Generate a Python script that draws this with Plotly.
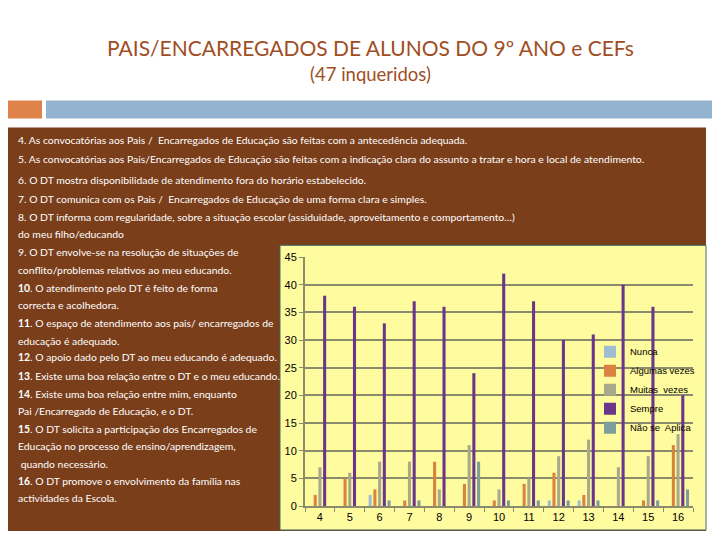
import plotly.graph_objects as go

categories = ["4", "5", "6", "7", "8", "9", "10", "11", "12", "13", "14", "15", "16"]
nunca = [0, 0, 2, 0, 0, 0, 0, 0, 1, 1, 0, 0, 0]
algumas = [2, 5, 3, 1, 8, 4, 1, 4, 6, 2, 0, 1, 11]
muitas = [7, 6, 8, 8, 3, 11, 3, 5, 9, 12, 7, 9, 13]
sempre = [38, 36, 33, 37, 36, 24, 42, 37, 30, 31, 40, 36, 20]
nao_aplica = [0, 0, 1, 1, 0, 8, 1, 1, 1, 1, 0, 1, 3]
series_names = ["Nunca", "Algumas vezes", "Muitas  vezes", "Sempre", "Não se  Aplica"]
y_ticks = [0, 5, 10, 15, 20, 25, 30, 35, 40, 45]

title = "PAIS/ENCARREGADOS DE ALUNOS DO 9º ANO e CEFs"
subtitle = "(47 inqueridos)"
statements = [
    "4. As convocatórias aos Pais /  Encarregados de Educação são feitas com a antecedência adequada.",
    "5. As convocatórias aos Pais/Encarregados de Educação são feitas com a indicação clara do assunto a tratar e hora e local de atendimento.",
    "6. O DT mostra disponibilidade de atendimento fora do horário estabelecido.",
    "7. O DT comunica com os Pais /  Encarregados de Educação de uma forma clara e simples.",
    "8. O DT informa com regularidade, sobre a situação escolar (assiduidade, aproveitamento e comportamento…)",
    "do meu filho/educando",
    "9. O DT envolve-se na resolução de situações de",
    "conflito/problemas relativos ao meu educando.",
    "<b>10</b>. O atendimento pelo DT é feito de forma",
    "correcta e acolhedora.",
    "<b>11</b>. O espaço de atendimento aos pais/ encarregados de",
    "educação é adequado.",
    "<b>12</b>. O apoio dado pelo DT ao meu educando é adequado.",
    "<b>13</b>. Existe uma boa relação entre o DT e o meu educando.",
    "<b>14</b>. Existe uma boa relação entre mim, enquanto",
    "Pai /Encarregado de Educação, e o DT.",
    "<b>15</b>. O DT solicita a participação dos Encarregados de",
    "Educação no processo de ensino/aprendizagem,",
    " quando necessário.",
    "<b>16</b>. O DT promove o envolvimento da família nas",
    "actividades da Escola.",
]
line_y = [140, 159, 180, 199, 217, 234, 252, 270, 288, 305, 323, 341, 357, 376, 394, 411, 429, 446, 464, 481, 498]

W, H = 720, 540
OFF = 8  # page body margin offset
L, R, T, B = 305 - OFF, 693 - OFF, 256.7 - OFF, 506.0 - OFF


def px(x):
    return (x - OFF - L) / (R - L)


def py(y):
    return (B - (y - OFF)) / (B - T)


colors = ["#9EBCD2", "#D9833F", "#A8A88A", "#6A3689", "#7D9E9C"]
data = [nunca, algumas, muitas, sempre, nao_aplica]

fig = go.Figure()
for name, vals, col in zip(series_names, data, colors):
    fig.add_trace(go.Bar(x=categories, y=vals, name=name, marker_color=col,
                         marker_line_width=0))

shapes = [
    dict(type="rect", xref="paper", yref="paper", x0=px(0), x1=px(42), y0=py(118), y1=py(100),
         fillcolor="#E0834A", line_width=0, layer="below"),
    dict(type="rect", xref="paper", yref="paper", x0=px(46), x1=px(730), y0=py(118), y1=py(100),
         fillcolor="#93B3D1", line_width=0, layer="below"),
    dict(type="rect", xref="paper", yref="paper", x0=px(8), x1=px(706), y0=py(531), y1=py(127),
         fillcolor="#7A3E1B", line_width=0, layer="below"),
    dict(type="rect", xref="paper", yref="paper", x0=px(280), x1=px(706), y0=py(530), y1=py(245),
         fillcolor="#FFFB9F", line=dict(color="#3E6E69", width=1), layer="below"),
]

annotations = [
    dict(text=title, x=px(370), y=py(47), xref="paper", yref="paper", showarrow=False,
         font=dict(family="Lato", size=21, color="#A04E1F"), xanchor="center", yanchor="middle"),
    dict(text=subtitle, x=px(370), y=py(73), xref="paper", yref="paper", showarrow=False,
         font=dict(family="Lato", size=18.5, color="#A04E1F"), xanchor="center", yanchor="middle"),
]
for txt, yy in zip(statements, line_y):
    annotations.append(dict(text=txt, x=px(16), y=py(yy), xref="paper", yref="paper",
                            showarrow=False, xanchor="left", yanchor="middle",
                            font=dict(family="Lato", size=10.4, color="white")))

fig.update_layout(
    width=W, height=H,
    margin=dict(l=L, r=W - R, t=T, b=H - B, pad=0, autoexpand=False),
    paper_bgcolor="white", plot_bgcolor="rgba(0,0,0,0)",
    barmode="group", bargap=0.21, bargroupgap=0.35,
    shapes=shapes, annotations=annotations,
    showlegend=True,
    legend=dict(x=px(700), y=py(337), xanchor="right", yanchor="top",
                bgcolor="rgba(0,0,0,0)", font=dict(family="Liberation Sans", size=9.5, color="black"),
                itemwidth=30, tracegroupgap=0),
    font=dict(family="Liberation Sans", size=11, color="black"),
)
fig.update_xaxes(type="category", showline=True, linecolor="#8A8A6C", linewidth=2,
                 ticks="outside", tickson="boundaries", ticklen=4, tickcolor="#8A8A6C",
                 tickfont=dict(size=11), showgrid=False)
fig.update_yaxes(range=[0, 45], tickvals=y_ticks, showline=True, linecolor="#8A8A6C", linewidth=2,
                 ticks="outside", ticklen=4, tickcolor="#8A8A6C", gridcolor="#8A8A6C", gridwidth=2,
                 tickfont=dict(size=11), zeroline=False)

fig.write_html("out.html")
